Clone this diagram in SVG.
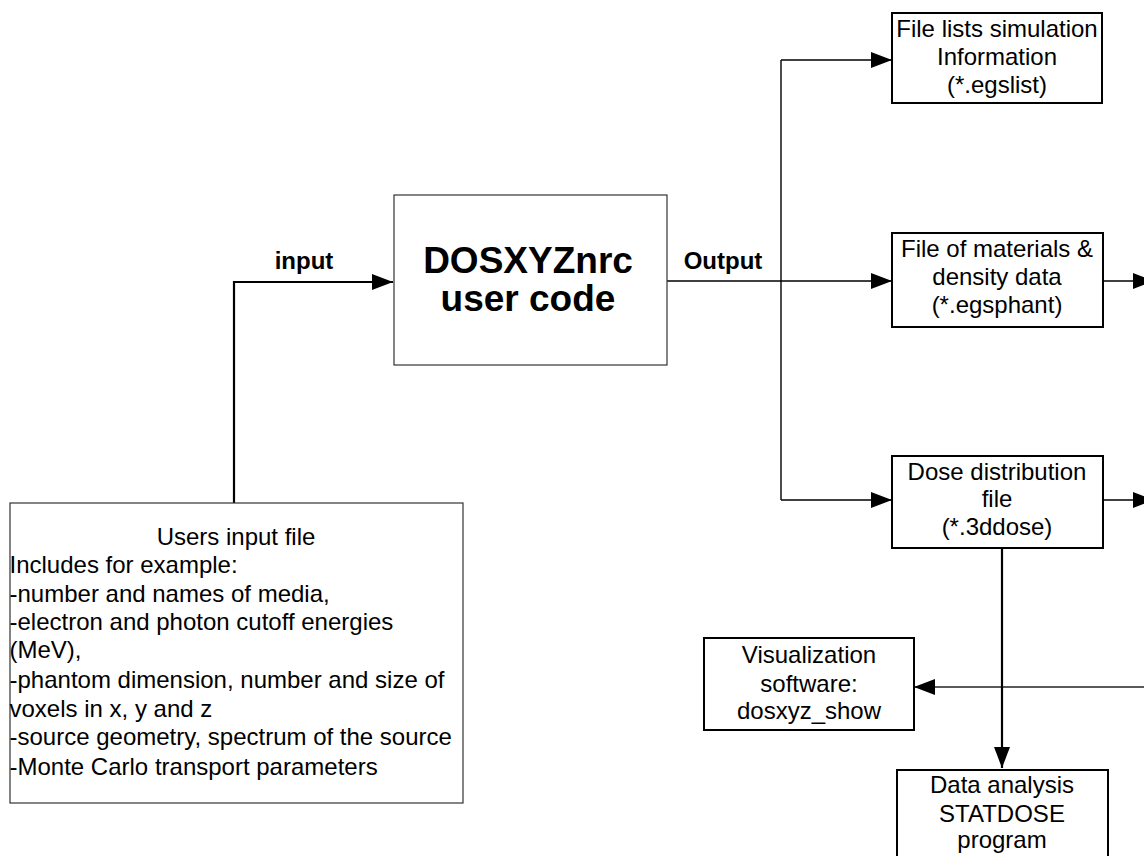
<svg xmlns="http://www.w3.org/2000/svg" width="1144" height="856" viewBox="0 0 1144 856">
<style>
  .bg{fill:#fff}
  .thin{fill:#fff;stroke:#333;stroke-width:1.2}
  .box{fill:#fff;stroke:#000;stroke-width:2}
  .t{font-family:"Liberation Sans",Arial,sans-serif;font-size:24px;fill:#000}
  .c{text-anchor:middle}
  .b{font-weight:bold}
  .big{font-family:"Liberation Sans",Arial,sans-serif;font-size:37px;font-weight:bold;text-anchor:middle;fill:#000}
  .ln{fill:none;stroke:#000;stroke-width:1.4}
  .lnb{fill:none;stroke:#000;stroke-width:2.2}
</style>
<defs>
  <marker id="ah" markerUnits="userSpaceOnUse" markerWidth="21" markerHeight="16" refX="21" refY="8" orient="auto">
    <path d="M0,0 L21,8 L0,16 z" fill="#000"/>
  </marker>
</defs>
<rect class="bg" x="0" y="0" width="1144" height="856"/>

<g id="connectors">
  <path class="lnb" d="M234,503 V282 H393" marker-end="url(#ah)"/>
  <path class="ln" d="M667,281 H781"/>
  <path class="ln" d="M781,60 V500"/>
  <path class="ln" d="M781,60 H892" marker-end="url(#ah)"/>
  <path class="ln" d="M781,281 H892" marker-end="url(#ah)"/>
  <path class="ln" d="M781,500 H892" marker-end="url(#ah)"/>
  <path class="ln" d="M1103,281 H1154" marker-end="url(#ah)"/>
  <path class="ln" d="M1103,500 H1154" marker-end="url(#ah)"/>
  <path class="ln" d="M1144,687 H914" marker-end="url(#ah)" style="stroke:#222;stroke-width:1.6"/>
  <path class="lnb" d="M1002,548 V768" marker-end="url(#ah)"/>
  <text class="t b c" x="304" y="269">input</text>
  <text class="t b c" x="723" y="269">Output</text>
</g>

<g id="dosxyz">
  <rect class="thin" x="394" y="195" width="273" height="170"/>
  <text class="big" x="528" y="273">DOSXYZnrc</text>
  <text class="big" x="528" y="311">user code</text>
</g>

<g id="input-file">
  <rect class="thin" x="10" y="503" width="453" height="300"/>
  <text class="t c" x="236" y="545">Users input file</text>
  <text class="t" x="9.5" y="573">Includes for example:</text>
  <text class="t" x="9.5" y="602">-number and names of media,</text>
  <text class="t" x="9.5" y="630">-electron and photon cutoff energies</text>
  <text class="t" x="9.5" y="658">(MeV),</text>
  <text class="t" x="9.5" y="688">-phantom dimension, number and size of</text>
  <text class="t" x="9.5" y="717">voxels in x, y and z</text>
  <text class="t" x="9.5" y="745">-source geometry, spectrum of the source</text>
  <text class="t" x="9.5" y="775">-Monte Carlo transport parameters</text>
</g>

<g id="egslist">
  <rect class="box" x="892" y="13" width="210" height="90"/>
  <text class="t c" x="997" y="37">File lists simulation</text>
  <text class="t c" x="997" y="65">Information</text>
  <text class="t c" x="997" y="93">(*.egslist)</text>
</g>

<g id="egsphant">
  <rect class="box" x="892" y="233" width="211" height="94"/>
  <text class="t c" x="997" y="257">File of materials &amp;</text>
  <text class="t c" x="997" y="285">density data</text>
  <text class="t c" x="997" y="313">(*.egsphant)</text>
</g>

<g id="dose">
  <rect class="box" x="892" y="456" width="211" height="92"/>
  <text class="t c" x="997" y="480">Dose distribution</text>
  <text class="t c" x="997" y="507">file</text>
  <text class="t c" x="997" y="535">(*.3ddose)</text>
</g>

<g id="visualization">
  <rect class="box" x="704" y="638" width="210" height="92"/>
  <text class="t c" x="809" y="663">Visualization</text>
  <text class="t c" x="809" y="692">software:</text>
  <text class="t c" x="809" y="719">dosxyz_show</text>
</g>

<g id="statdose">
  <rect class="box" x="897" y="770" width="211" height="100"/>
  <text class="t c" x="1002" y="793">Data analysis</text>
  <text class="t c" x="1002" y="822">STATDOSE</text>
  <text class="t c" x="1002" y="848">program</text>
</g>
</svg>
